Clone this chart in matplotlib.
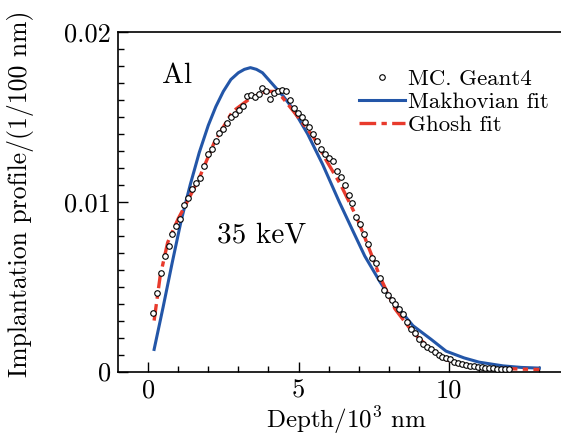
import numpy as np
import matplotlib
matplotlib.use("Agg")
import matplotlib.pyplot as plt

plt.rcParams['font.family'] = 'serif'
plt.rcParams['font.serif'] = ['cmr10', 'DejaVu Serif']
plt.rcParams['mathtext.fontset'] = 'cm'
plt.rcParams['axes.unicode_minus'] = False

# Monte Carlo (Geant4) points, depth in 10^3 nm
mc_x = [0.16, 0.29, 0.42, 0.55, 0.68, 0.81, 0.94, 1.07, 1.20, 1.33,
        1.46, 1.59, 1.72, 1.85, 1.98, 2.11, 2.24, 2.37, 2.50, 2.63,
        2.76, 2.89, 3.02, 3.15, 3.28, 3.41, 3.54, 3.67, 3.80, 3.93,
        4.06, 4.19, 4.32, 4.45, 4.58, 4.71, 4.84, 4.97, 5.10, 5.23,
        5.36, 5.49, 5.62, 5.75, 5.88, 6.01, 6.14, 6.27, 6.40, 6.53,
        6.66, 6.79, 6.92, 7.05, 7.18, 7.31, 7.44, 7.57, 7.70, 7.83,
        7.96, 8.09, 8.22, 8.35, 8.48, 8.61, 8.74, 8.87, 9.00, 9.13,
        9.26, 9.39, 9.52, 9.65, 9.78, 9.91, 10.04, 10.17, 10.30, 10.43,
        10.56, 10.69, 10.82, 10.95, 11.08, 11.21, 11.34, 11.47, 11.60, 11.73,
        11.86, 11.99]
mc_y = [0.00345, 0.00462, 0.00580, 0.00680, 0.00742, 0.00810, 0.00860, 0.00900, 0.00980, 0.01020,
        0.01075, 0.01110, 0.01140, 0.01210, 0.01280, 0.01310, 0.01358, 0.01407, 0.01430, 0.01465,
        0.01500, 0.01514, 0.01538, 0.01565, 0.01622, 0.01627, 0.01616, 0.01635, 0.01670, 0.01655,
        0.01608, 0.01640, 0.01650, 0.01660, 0.01650, 0.01600, 0.01555, 0.01520, 0.01500, 0.01470,
        0.01440, 0.01400, 0.01355, 0.01310, 0.01280, 0.01260, 0.01240, 0.01180, 0.01145, 0.01100,
        0.01040, 0.00990, 0.00910, 0.00870, 0.00810, 0.00750, 0.00670, 0.00640, 0.00550, 0.00480,
        0.00450, 0.00420, 0.00400, 0.00370, 0.00340, 0.00290, 0.00250, 0.00224, 0.00190, 0.00160,
        0.00145, 0.00133, 0.00112, 0.00100, 0.00088, 0.00080, 0.00072, 0.00058, 0.00052, 0.00046,
        0.00040, 0.00035, 0.00030, 0.00028, 0.00025, 0.00022, 0.00020, 0.00018, 0.00016, 0.00015,
        0.00013, 0.00012]

# Makhovian fit
mak_x = [0.2, 0.5, 0.8, 1.1, 1.4, 1.7, 2.0, 2.25, 2.5, 2.75, 3.0, 3.2, 3.4, 3.6, 3.8,
         4.0, 4.2, 4.5, 4.8, 5.3, 5.8, 6.35, 6.8, 7.2, 7.7, 8.1, 8.8, 9.4, 9.9, 10.5,
         11.0, 11.8, 12.4, 13.0]
mak_y = [0.0013, 0.0038, 0.0064, 0.0089, 0.0110, 0.0129, 0.0145, 0.0156, 0.0165, 0.0172,
         0.0176, 0.0178, 0.0179, 0.0178, 0.0176, 0.0172, 0.0168, 0.0162, 0.0155, 0.0140,
         0.0122, 0.0100, 0.0083, 0.0068, 0.0053, 0.0042, 0.0027, 0.0019, 0.0012, 0.0008,
         0.00055, 0.00033, 0.00024, 0.0002]

# Ghosh fit
gh_x = [0.2, 0.4, 0.65, 1.0, 1.3, 1.7, 2.2, 2.8, 3.4, 3.9, 4.3, 4.8, 5.5, 5.9, 6.4,
        6.9, 7.2, 7.7, 8.2, 8.8, 9.4, 9.9, 10.5, 11.0, 11.8, 12.4, 13.0]
gh_y = [0.0030, 0.0056, 0.0076, 0.0090, 0.0100, 0.0114, 0.0135, 0.0153, 0.0161, 0.0165,
        0.0165, 0.0154, 0.0138, 0.0125, 0.0110, 0.0092, 0.0079, 0.0056, 0.0037, 0.0023,
        0.0013, 0.0007, 0.0004, 0.00028, 0.00018, 0.00014, 0.00012]

fig = plt.figure(figsize=(5.61, 4.37), dpi=100)
ax = fig.add_axes([118/561, 65.5/437, 443/561, 339.5/437])

ax.plot(mak_x, mak_y, color='#2356a8', lw=2.2, label='Makhovian fit', zorder=2)
ax.plot(gh_x, gh_y, color='#e83a2c', lw=2.4, ls=(0, (5, 1.6, 1.6, 1.6)),
        label='Ghosh fit', zorder=2)
ax.plot(mc_x, mc_y, 'o', ms=4.0, mfc='white', mec='black', mew=0.8,
        label='MC. Geant4', zorder=3)

ax.set_xlim(-1.0, 13.72)
ax.set_ylim(0, 0.02)
ax.spines['right'].set_visible(False)
for s in ax.spines.values():
    s.set_linewidth(1.2)

ax.set_xticks([0, 5, 10])
ax.set_xticklabels(['0', '5', '10'])
ax.set_xticks(np.arange(0, 14, 1), minor=True)
ax.set_yticks([0, 0.01, 0.02])
ax.set_yticklabels(['0', '0.01', '0.02'])
ax.set_yticks(np.arange(0, 0.0201, 0.001), minor=True)
ax.tick_params(which='both', direction='in', top=False, right=False,
               labelsize=19, width=1.0)
ax.tick_params(which='major', length=7)
ax.tick_params(which='minor', length=4.5)
ax.tick_params(axis='x', pad=5)
ax.tick_params(axis='y', pad=5)

ax.set_xlabel(r'Depth/$10^3$ nm', fontsize=18)
ax.set_ylabel('Implantation profile/(1/100 nm)', fontsize=18.5)
ax.yaxis.set_label_coords(-0.19, 0.524)
ax.xaxis.set_label_coords(0.517, -0.098)

ax.text(0.47, 0.0170, 'Al', fontsize=21)
ax.text(2.29, 0.0076, '35 keV', fontsize=21)

h, l = ax.get_legend_handles_labels()
order = [2, 0, 1]
ax.legend([h[i] for i in order], [l[i] for i in order], loc='upper left',
          bbox_to_anchor=(0.545, 0.89), frameon=False, fontsize=16.5,
          handlelength=2.0, handletextpad=0.13, labelspacing=0.12,
          borderaxespad=0, borderpad=0)

fig.savefig('out.png', dpi=100)
